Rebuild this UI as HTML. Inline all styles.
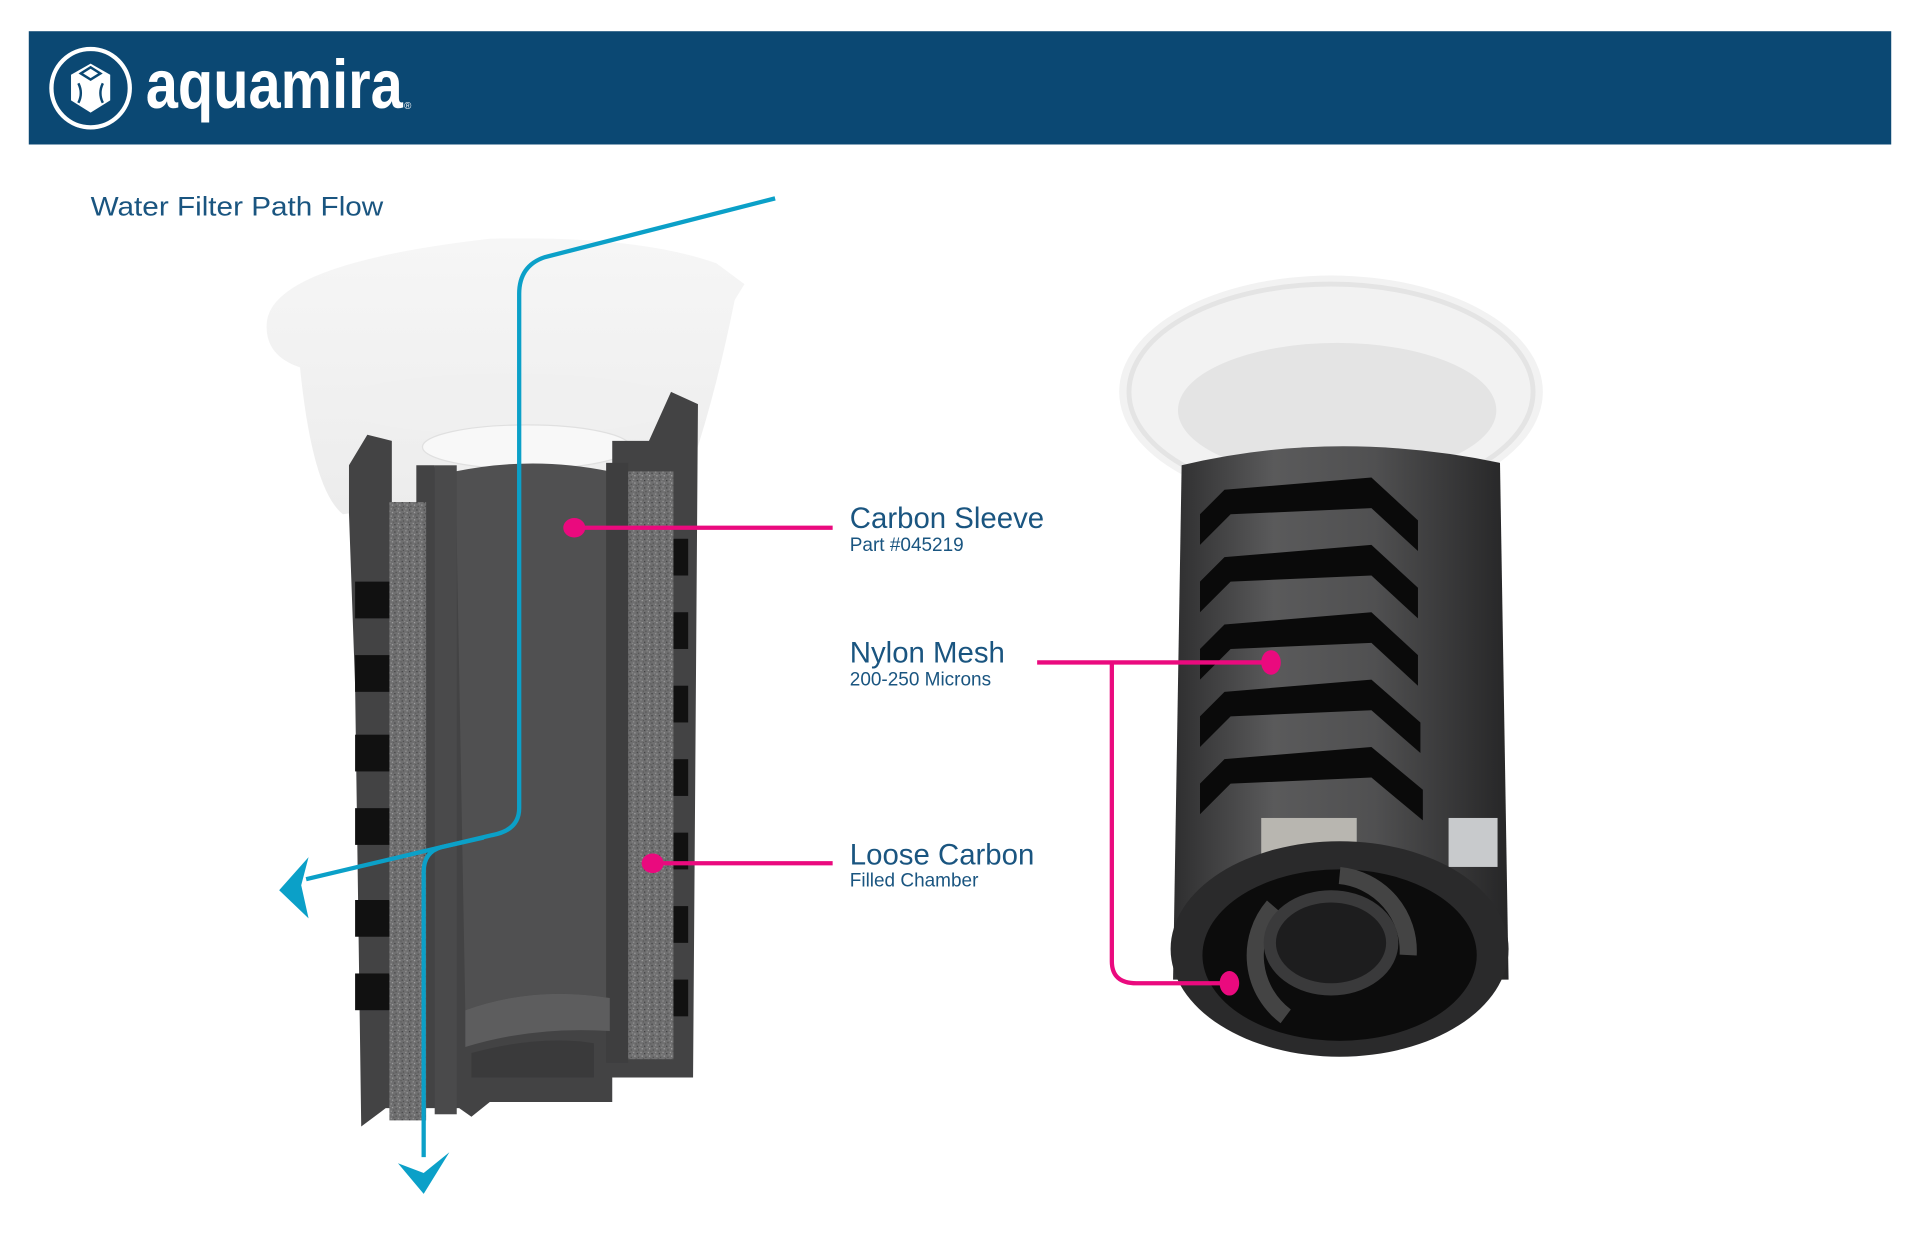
<!DOCTYPE html>
<html><head><meta charset="utf-8"><style>
html,body{margin:0;padding:0;background:#fff;}
svg{display:block;}
</style></head><body>
<svg width="1920" height="1242" viewBox="0 0 1568 1014.3" xmlns="http://www.w3.org/2000/svg">
<defs>
<pattern id="spk" width="6" height="6" patternUnits="userSpaceOnUse">
<rect width="6" height="6" fill="#6f6f70"/>
<rect x="1" y="1" width="1" height="1" fill="#9a9a9a"/><rect x="4" y="2" width="1" height="1" fill="#3f3f40"/>
<rect x="2" y="4" width="1" height="1" fill="#a5a5a5"/><rect x="5" y="5" width="1" height="1" fill="#505050"/>
<rect x="0" y="3" width="1" height="1" fill="#8a8a8a"/><rect x="3" y="0" width="1" height="1" fill="#5a5a5a"/>
</pattern>
<linearGradient id="rb" x1="0" x2="1">
<stop offset="0" stop-color="#2e2e2f"/><stop offset=".3" stop-color="#5a5a5b"/><stop offset=".6" stop-color="#505051"/><stop offset="1" stop-color="#262627"/>
</linearGradient>
<linearGradient id="cap" x1="0" x2="0" y1="0" y2="1">
<stop offset="0" stop-color="#f6f6f6"/><stop offset="1" stop-color="#ececec"/>
</linearGradient>
</defs>
<rect x="23.5" y="25.5" width="1521" height="92.5" fill="#0b4873"/>
<circle cx="74" cy="72" r="32" fill="none" stroke="#fff" stroke-width="3.5"/>
<path d="M74 52 L90 61 L90 82 L74 92 L58 82 L58 61 Z" fill="#fff"/>
<path d="M64 68 q4 8 0 16 M84 68 q-4 8 0 16 M66 60 L74 55 L82 60 L74 65Z" stroke="#0b4873" stroke-width="2" fill="none"/>
<text x="119" y="88" font-family="Liberation Sans Narrow, Liberation Sans, sans-serif" font-weight="bold" font-size="56" fill="#fff" textLength="210" lengthAdjust="spacingAndGlyphs">aquamira</text>
<text x="330" y="89" font-family="Liberation Sans, sans-serif" font-size="8" fill="#fff">®</text>
<text x="74" y="176" font-family="Liberation Sans, sans-serif" font-size="22" fill="#1a5580" textLength="239" lengthAdjust="spacingAndGlyphs">Water Filter Path Flow</text>

<!-- left filter cap -->
<path d="M218 262 Q225 215 400 195 Q520 192 585 215 L608 232 L600 245 Q585 320 565 380 L280 420 Q255 400 245 300 Q215 290 218 262Z" fill="url(#cap)"/>
<ellipse cx="415" cy="330" rx="140" ry="25" fill="#f0f0f0"/>
<ellipse cx="430" cy="365" rx="85" ry="18" fill="#f8f8f8" stroke="#e0e0e0"/>
<!-- left body -->
<path d="M285 380 L300 355 L320 360 L320 420 L340 420 L340 380 L355 380 L360 420 L372 395 L385 400 L385 420 L500 420 L500 360 L530 360 L548 320 L570 330 L566 880 L500 880 L500 900 L400 900 L385 912 L375 905 L315 905 L295 920 L290 560 L285 420Z" fill="#434344"/>
<rect x="318" y="410" width="30" height="505" fill="url(#spk)"/>
<rect x="512" y="385" width="38" height="480" fill="url(#spk)"/>
<path d="M372 385 Q435 372 498 385 L498 815 Q435 805 380 825Z" fill="#505051"/>
<rect x="355" y="380" width="18" height="530" fill="#4a4a4b"/>
<rect x="495" y="378" width="18" height="490" fill="#3e3e3f"/>
<path d="M380 835 L380 855 Q435 838 498 842 L498 815 Q435 805 380 825Z" fill="#5d5d5e"/>
<path d="M385 860 Q440 845 485 852 L485 880 L385 880Z" fill="#3a3a3b"/>
<g fill="#111">
<rect x="290" y="475" width="28" height="30"/><rect x="290" y="535" width="28" height="30"/><rect x="290" y="600" width="28" height="30"/><rect x="290" y="660" width="28" height="30"/><rect x="290" y="735" width="28" height="30"/><rect x="290" y="795" width="28" height="30"/>
<rect x="550" y="440" width="12" height="30"/><rect x="550" y="500" width="12" height="30"/><rect x="550" y="560" width="12" height="30"/><rect x="550" y="620" width="12" height="30"/><rect x="550" y="680" width="12" height="30"/><rect x="550" y="740" width="12" height="30"/><rect x="550" y="800" width="12" height="30"/>
</g>
<!-- blue flow -->
<g stroke="#0ba0c8" stroke-width="3.5" fill="none">
<path d="M633 162 L445 210 Q424 217 424 240 L424 660 Q424 678 402 682 L250 718"/>
<path d="M395 684 L360 692 Q346 696 346 712 L346 945"/>
</g>
<path d="M228 727 L252 700 L246 723 L252 750Z" fill="#0ba0c8"/>
<path d="M346 975 L325 950 L346 958 L367 941Z" fill="#0ba0c8"/>

<!-- right filter -->
<ellipse cx="1087" cy="320" rx="173" ry="95" fill="#f2f2f2"/>
<ellipse cx="1087" cy="320" rx="165" ry="88" fill="none" stroke="#e4e4e4" stroke-width="4"/>
<ellipse cx="1092" cy="335" rx="130" ry="55" fill="#e4e4e4"/>
<path d="M965 380 Q1090 350 1225 378 L1232 800 L958 800Z" fill="url(#rb)"/>
<g fill="#0a0a0a">
<path d="M1000 400 L1120 390 L1158 425 L1158 450 L1120 415 L1005 420 L980 445 L980 420Z"/>
<path d="M1000 455 L1120 445 L1158 480 L1158 505 L1120 470 L1005 475 L980 500 L980 475Z"/>
<path d="M1000 510 L1120 500 L1158 535 L1158 560 L1120 525 L1005 530 L980 555 L980 530Z"/>
<path d="M1000 565 L1120 555 L1160 590 L1160 615 L1120 580 L1005 585 L980 610 L980 585Z"/>
<path d="M1000 620 L1120 610 L1162 645 L1162 670 L1120 635 L1005 640 L980 665 L980 640Z"/>
</g>
<rect x="1030" y="668" width="78" height="40" fill="#b8b6b0"/>
<rect x="1183" y="668" width="40" height="40" fill="#c8cacc"/>
<ellipse cx="1094" cy="775" rx="138" ry="88" fill="#2a2a2b"/>
<ellipse cx="1094" cy="780" rx="112" ry="70" fill="#0c0c0c"/>
<path d="M1094 715 A62 62 0 0 1 1150 780" stroke="#444" stroke-width="14" fill="none"/>
<path d="M1050 830 A62 62 0 0 1 1040 740" stroke="#444" stroke-width="14" fill="none"/>
<ellipse cx="1087" cy="770" rx="50" ry="38" fill="#1d1d1e" stroke="#3a3a3b" stroke-width="10"/>

<!-- pink callouts -->
<g stroke="#ea0a7e" stroke-width="3.5" fill="none">
<path d="M467 431 L680 431"/>
<path d="M533 705 L680 705"/>
<path d="M847 541 L1037 541"/>
<path d="M908 541 L908 785 Q908 803 928 803 L1003 803"/>
</g>
<g fill="#ea0a7e">
<ellipse cx="469" cy="431" rx="9" ry="8"/><ellipse cx="533" cy="705" rx="9" ry="8"/><ellipse cx="1038" cy="541" rx="8" ry="10"/><ellipse cx="1004" cy="803" rx="8" ry="10"/>
</g>
<g font-family="Liberation Sans, sans-serif" fill="#1a5580">
<text x="694" y="431" font-size="24">Carbon Sleeve</text>
<text x="694" y="450" font-size="15.5">Part #045219</text>
<text x="694" y="541" font-size="24">Nylon Mesh</text>
<text x="694" y="560" font-size="15.5">200-250 Microns</text>
<text x="694" y="706" font-size="24">Loose Carbon</text>
<text x="694" y="724" font-size="15.5">Filled Chamber</text>
</g>
</svg>
</body></html>
